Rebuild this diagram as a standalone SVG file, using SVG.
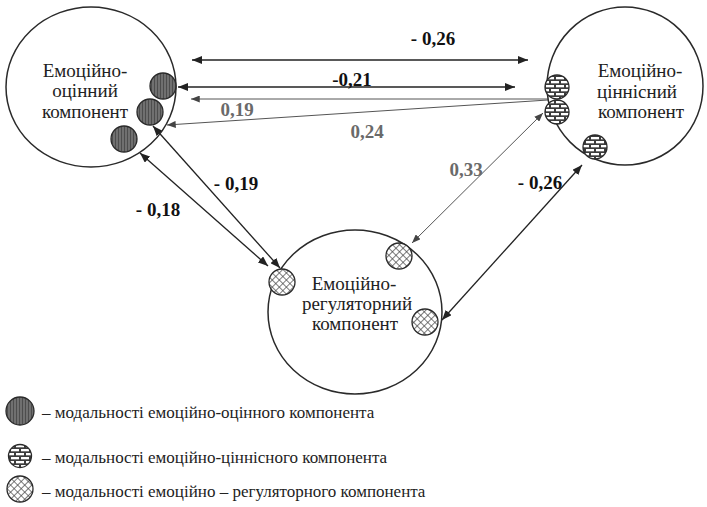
<svg xmlns="http://www.w3.org/2000/svg" width="707" height="507" viewBox="0 0 707 507">
<defs>
<pattern id="vs" width="3" height="3" patternUnits="userSpaceOnUse">
<rect width="3" height="3" fill="#707070"/>
<line x1="1.5" y1="0" x2="1.5" y2="3" stroke="#4a4a4a" stroke-width="0.9"/>
</pattern>
<pattern id="br" width="10" height="8" patternUnits="userSpaceOnUse">
<rect width="10" height="8" fill="#3c3c3c"/>
<rect x="1" y="1" width="8" height="2.3" fill="#fff"/>
<rect x="-4" y="5" width="8" height="2.3" fill="#fff"/>
<rect x="6" y="5" width="8" height="2.3" fill="#fff"/>
</pattern>
<pattern id="xh" width="5" height="5" patternUnits="userSpaceOnUse" patternTransform="rotate(45)">
<rect width="5" height="5" fill="#fff"/>
<line x1="0" y1="0" x2="5" y2="0" stroke="#444" stroke-width="1.4"/>
<line x1="0" y1="0" x2="0" y2="5" stroke="#444" stroke-width="1.4"/>
</pattern>
<marker id="ah" viewBox="0 0 10 8" refX="10" refY="4" markerWidth="10" markerHeight="8" markerUnits="userSpaceOnUse" orient="auto-start-reverse">
<path d="M0,0 L10,4 L0,8 Z" fill="#222"/>
</marker>
<marker id="ahg" viewBox="0 0 10 8" refX="10" refY="4" markerWidth="9" markerHeight="7" markerUnits="userSpaceOnUse" orient="auto-start-reverse">
<path d="M0,0 L10,4 L0,8 Z" fill="#444"/>
</marker>
</defs>
<rect width="707" height="507" fill="#fff"/>

<g id="connectors">
<g stroke="#222" stroke-width="1.3" fill="none" marker-start="url(#ah)" marker-end="url(#ah)">
<line x1="192" y1="60" x2="528" y2="60"/>
<line x1="178" y1="87" x2="515" y2="87"/>
<line x1="442" y1="320" x2="582" y2="165"/>
<line x1="153" y1="126" x2="280" y2="268"/>
<line x1="140" y1="153" x2="268" y2="266"/>
</g>
<g stroke="#555" stroke-width="1" fill="none">
<line x1="548" y1="99" x2="191" y2="99" marker-end="url(#ahg)"/>
<line x1="548" y1="100" x2="167" y2="125" marker-end="url(#ahg)"/>
<line x1="412" y1="243" x2="543" y2="113" marker-start="url(#ahg)" marker-end="url(#ahg)"/>
</g>
<text font-family="Liberation Serif" font-size="19" font-weight="bold" fill="#111" text-anchor="middle" x="433" y="45">- 0,26</text>
<text font-family="Liberation Serif" font-size="19" font-weight="bold" fill="#111" text-anchor="middle" x="352" y="86">-0,21</text>
<text font-family="Liberation Serif" font-size="19" font-weight="bold" fill="#6a6a6a" text-anchor="middle" x="237" y="116">0,19</text>
<text font-family="Liberation Serif" font-size="19" font-weight="bold" fill="#6a6a6a" text-anchor="middle" x="367" y="138">0,24</text>
<text font-family="Liberation Serif" font-size="19" font-weight="bold" fill="#111" text-anchor="middle" x="236" y="190">- 0,19</text>
<text font-family="Liberation Serif" font-size="19" font-weight="bold" fill="#111" text-anchor="middle" x="158" y="216">- 0,18</text>
<text font-family="Liberation Serif" font-size="19" font-weight="bold" fill="#6a6a6a" text-anchor="middle" x="466" y="176">0,33</text>
<text font-family="Liberation Serif" font-size="19" font-weight="bold" fill="#111" text-anchor="middle" x="540" y="189">- 0,26</text>
</g>

<g id="node-evaluative">
<ellipse cx="91" cy="87" rx="85" ry="80" fill="none" stroke="#2a2a2a" stroke-width="1.5"/>
<g stroke="#2a2a2a" stroke-width="1.3" fill="url(#vs)">
<circle cx="163" cy="86" r="13"/>
<circle cx="150" cy="112" r="13"/>
<circle cx="124" cy="139" r="13"/>
</g>
<text font-family="Liberation Serif" font-size="19" fill="#222" text-anchor="middle" x="85" y="77">Емоційно-</text>
<text font-family="Liberation Serif" font-size="19" fill="#222" text-anchor="middle" x="85" y="97">оцінний</text>
<text font-family="Liberation Serif" font-size="19" fill="#222" text-anchor="middle" x="85" y="118">компонент</text>
</g>

<g id="node-value">
<ellipse cx="625" cy="86" rx="78" ry="79" fill="none" stroke="#2a2a2a" stroke-width="1.5"/>
<g stroke="#2a2a2a" stroke-width="1.3" fill="url(#br)">
<circle cx="557" cy="87" r="12"/>
<circle cx="557" cy="112" r="12"/>
<circle cx="595" cy="147" r="12"/>
</g>
<text font-family="Liberation Serif" font-size="19" fill="#222" text-anchor="middle" x="640" y="77">Емоційно-</text>
<text font-family="Liberation Serif" font-size="19" fill="#222" text-anchor="middle" x="637" y="98">ціннісний</text>
<text font-family="Liberation Serif" font-size="19" fill="#222" text-anchor="middle" x="641" y="118">компонент</text>
</g>

<g id="node-regulatory">
<ellipse cx="355" cy="312" rx="87" ry="82" fill="none" stroke="#2a2a2a" stroke-width="1.5"/>
<g stroke="#2a2a2a" stroke-width="1.3" fill="url(#xh)">
<circle cx="282" cy="282" r="13"/>
<circle cx="399" cy="256" r="13"/>
<circle cx="425" cy="322" r="13"/>
</g>
<text font-family="Liberation Serif" font-size="19" fill="#222" text-anchor="middle" x="354" y="290">Емоційно-</text>
<text font-family="Liberation Serif" font-size="19" fill="#222" text-anchor="middle" x="357" y="310">регуляторний</text>
<text font-family="Liberation Serif" font-size="19" fill="#222" text-anchor="middle" x="355" y="330">компонент</text>
</g>

<g id="legend">
<g stroke="#2a2a2a" stroke-width="1.3">
<circle cx="20" cy="411" r="14" fill="url(#vs)"/>
<circle cx="20" cy="456" r="11.5" fill="url(#br)"/>
<circle cx="20" cy="489" r="13" fill="url(#xh)"/>
</g>
<text font-family="Liberation Serif" font-size="17" fill="#222" x="42" y="418">– модальності емоційно-оцінного компонента</text>
<text font-family="Liberation Serif" font-size="17" fill="#222" x="42" y="463">– модальності емоційно-ціннісного компонента</text>
<text font-family="Liberation Serif" font-size="17" fill="#222" x="42" y="497">– модальності емоційно – регуляторного компонента</text>
</g>
</svg>
